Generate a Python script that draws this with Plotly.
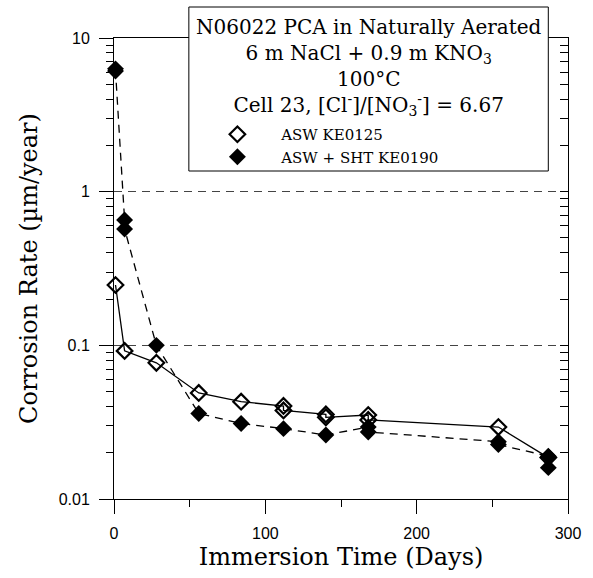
import plotly.graph_objects as go

# ASW KE0125 (open diamonds, solid line)
asw_days = [1, 7, 28, 56, 84, 112, 112, 140, 140, 168, 168, 254, 287]
asw_rate = [0.247, 0.092, 0.077, 0.049, 0.043, 0.0403, 0.0377, 0.0355, 0.034, 0.0352, 0.0327, 0.0294, 0.0186]

# ASW + SHT KE0190 (filled diamonds, dashed line)
sht_days = [1, 1, 7, 7, 28, 56, 84, 112, 140, 168, 168, 254, 254, 287, 287]
sht_rate = [6.3, 6.1, 0.654, 0.572, 0.100, 0.036, 0.031, 0.0287, 0.0261, 0.0294, 0.0273, 0.0236, 0.0226, 0.0190, 0.0160]

# axis ticks
y_major = [0.01, 0.1, 1, 10]
y_major_text = ["0.01", "0.1", "1", "10"]
y_minor = [m * d for d in (0.01, 0.1, 1) for m in range(2, 10)]
x_major = [0, 100, 200, 300]
x_minor = [50, 150, 250]

title_text = ("N06022 PCA in Naturally Aerated<br>"
              "6 m NaCl + 0.9 m KNO<sub>3</sub><br>"
              "100°C<br>"
              "Cell 23, [Cl<sup>-</sup>]/[NO<sub>3</sub><sup>-</sup>] = 6.67")

serif = "DejaVu Serif"
sans = "Liberation Sans"
pad = "\u00a0" * 5

fig = go.Figure()
# connecting lines (not in legend)
fig.add_trace(go.Scatter(
    x=asw_days, y=asw_rate, mode="lines", showlegend=False, hoverinfo="skip",
    line=dict(color="black", width=1.3), cliponaxis=False))
fig.add_trace(go.Scatter(
    x=sht_days, y=sht_rate, mode="lines", showlegend=False, hoverinfo="skip",
    line=dict(color="black", width=1.3, dash="8px,6px"), cliponaxis=False))
# markers
fig.add_trace(go.Scatter(
    x=asw_days, y=asw_rate, mode="markers", name=pad + "ASW KE0125",
    legendgroup="a",
    marker=dict(symbol="diamond-open", size=12, color="black", line=dict(width=2.2, color="black")),
    cliponaxis=False))
fig.add_trace(go.Scatter(
    x=sht_days, y=sht_rate, mode="markers", name=pad + "ASW + SHT KE0190",
    legendgroup="b",
    marker=dict(symbol="diamond", size=13, color="black"),
    cliponaxis=False))

# empty helper traces so the extra tick axes get drawn
fig.add_trace(go.Scatter(x=[], y=[], xaxis="x", yaxis="y2", showlegend=False, hoverinfo="skip"))
fig.add_trace(go.Scatter(x=[], y=[], xaxis="x", yaxis="y3", showlegend=False, hoverinfo="skip"))
fig.add_trace(go.Scatter(x=[], y=[], xaxis="x2", yaxis="y", showlegend=False, hoverinfo="skip"))

fig.update_layout(
    width=593, height=578,
    margin=dict(l=114, r=18, t=38, b=79),
    paper_bgcolor="white", plot_bgcolor="white",
    showlegend=True,
    legend=dict(
        x=(219 - 114) / 461, y=(499 - 118) / 461, xanchor="left", yanchor="top",
        bgcolor="rgba(0,0,0,0)", borderwidth=0,
        font=dict(family=serif, size=15, color="black"),
        traceorder="grouped", tracegroupgap=0,
        itemsizing="trace",
    ),
    shapes=[dict(type="rect", xref="paper", yref="paper",
                 x0=(190 - 114) / 461, x1=(555 - 114) / 461,
                 y0=(499 - 171) / 461, y1=(499 - 7) / 461,
                 line=dict(color="black", width=1), fillcolor="white", layer="above")],
    annotations=[dict(text=title_text, xref="paper", yref="paper",
                      x=(372.5 - 114) / 461, y=(499 - 13) / 461,
                      xanchor="center", yanchor="top", align="center", showarrow=False,
                      font=dict(family=serif, size=20, color="black"))],
    xaxis=dict(
        range=[0, 300], tickmode="array", tickvals=x_major, showgrid=False, zeroline=False,
        showline=True, linecolor="black", linewidth=1, mirror=True,
        ticks="outside", ticklen=14, tickcolor="black", tickwidth=1,
        tickfont=dict(family=sans, size=16, color="black"),
        ticklabelstandoff=6,
        title=dict(text="Immersion Time (Days)", font=dict(family=serif, size=24, color="black"), standoff=6),
    ),
    xaxis2=dict(
        range=[0, 300], overlaying="x", anchor="y", side="bottom",
        tickmode="array", tickvals=x_minor, ticks="outside", ticklen=7, tickcolor="black",
        showticklabels=False, showgrid=False, zeroline=False, showline=False,
    ),
    yaxis=dict(
        type="log", range=[-2, 1], tickmode="array", tickvals=y_major, ticktext=y_major_text,
        showgrid=True, gridcolor="#444444", gridwidth=1, griddash="8px,6px",
        zeroline=False, showline=True, linecolor="black", linewidth=1,
        ticks="outside", ticklen=14, tickcolor="black", tickwidth=1,
        tickfont=dict(family=sans, size=16, color="black"),
        ticklabelstandoff=6,
        title=dict(text="Corrosion Rate (µm/year)", font=dict(family=serif, size=24, color="black"), standoff=14),
    ),
    yaxis2=dict(
        type="log", range=[-2, 1], overlaying="y", side="right", anchor="x",
        tickmode="array", tickvals=y_major + y_minor,
        showgrid=False, zeroline=False, showline=True, linecolor="black", linewidth=1,
        ticks="inside", ticklen=8, tickcolor="black", showticklabels=False,
    ),
    yaxis3=dict(
        type="log", range=[-2, 1], overlaying="y", side="left", anchor="x",
        tickmode="array", tickvals=y_minor,
        showgrid=False, zeroline=False, showline=False,
        ticks="outside", ticklen=7, tickcolor="black", showticklabels=False,
    ),
)

fig.write_html("out.html")
